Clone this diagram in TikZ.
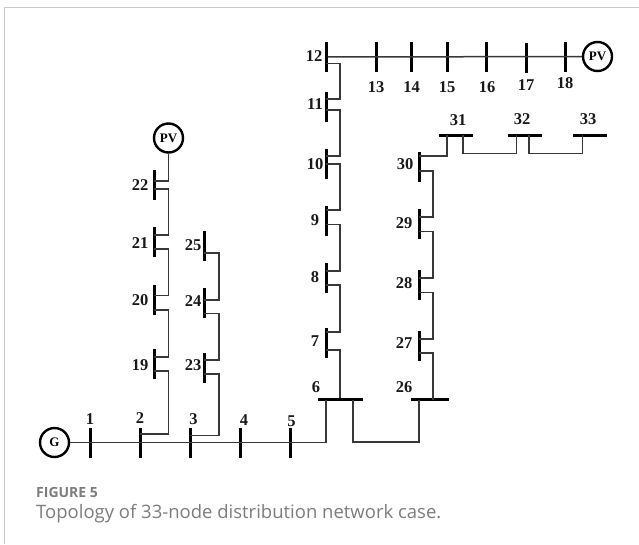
\documentclass[tikz,border=0pt]{standalone}
\usepackage{fontspec}
\setmainfont{Liberation Serif}
\newfontfamily\capfont{Open Sans}
\usepackage{tikz}
\usetikzlibrary{positioning}
\definecolor{framegray}{RGB}{200,200,200}
\definecolor{capgray}{RGB}{125,125,125}
\tikzset{
  wire/.style={line width=1.5pt, black!78},
  vbus/.style={fill=black, inner sep=0pt, minimum width=3pt, minimum height=30pt},
  hbus/.style={fill=black, inner sep=0pt, minimum height=3pt},
  source/.style={draw, circle, line width=2.4pt, fill=white, inner sep=0pt, minimum size=29pt, font=\bfseries\fontsize{13}{13}\selectfont},
  num/.style={font=\bfseries\fontsize{16.5}{16.5}\selectfont, inner sep=0pt, text=black!90}
}
\begin{document}
\begin{tikzpicture}[x=1pt,y=-1pt]
    \useasboundingbox (0,0) rectangle (639,544);
    \fill[white] (0,0) rectangle (639,544);
    \coordinate (framea) at (4.5,544);
    \coordinate (frameb) at (4.5,7.5);
    \coordinate (framec) at (639,7.5);
    \draw[framegray, line width=1pt] (framea) -- (frameb) -- (framec);
    % vertical buses
    \foreach \name/\x/\y in {b1/90/443,b2/140/443,b3/190/443,b4/240/443,b5/290/443,
        b7/326/342.5,b8/326/278,b9/326/221,b10/326/163.5,b11/326/107,b12/326/57,
        b13/376/57,b14/411.5/57,b15/447/57,b16/486.5/57,b17/526/58,b18/565/57,
        b19/154.3/363.5,b20/154.3/299.5,b21/154.3/242,b22/154.3/185,
        b23/204.3/367.5,b24/204.3/303,b25/204.3/246,
        b27/419/346,b28/419/285,b29/419/224,b30/419/167}
        \node[vbus] (\name) at (\x,\y) {};
    % horizontal buses
    \node[hbus, minimum width=45pt] (b6) at (340,399.7) {};
    \node[hbus, minimum width=38pt] (b26) at (429.5,399.7) {};
    \node[hbus, minimum width=34pt] (b31) at (456,135) {};
    \node[hbus, minimum width=34pt] (b32) at (524.5,135) {};
    \node[hbus, minimum width=34pt] (b33) at (590,135) {};
    % sources
    \node[source] (g) at (54.5,442.5) {G};
    \node[source] (pva) at (168.5,138) {PV};
    \node[source] (pvb) at (597.5,56.5) {PV};
    % main lines
    \draw[wire] (g) -- (326,442.5) -- (326,399.7);
    \draw[wire] (b12) -- (pvb);
    % feeder ties: bus, y on bus, x of feeder, y on next bus, next bus
    \foreach \from/\ya/\fx/\yb/\to in {b2/434/168.5/371/b19,b19/357/168.5/310/b20,
        b20/295.5/168.5/249/b21,b21/235/168.5/189/b22,
        b3/435.5/219/374/b23,b23/360/219/313.5/b24,b24/300/219/253/b25,
        b7/332/340/285/b8,b8/271/340/224.5/b9,b9/210/340/164/b10,
        b10/156/340/110/b11,b11/99/340/63.5/b12,
        b27/339/433/292.5/b28,b28/278/433/231.5/b29,b29/217/433/171/b30}
        \draw[wire] (\from |- 0,\ya) -| (\fx,\yb) -- (\to |- 0,\yb);
    \draw[wire] (b6) -- (340,350) -- (b7 |- 0,350);
    \draw[wire] (433,399.7) -- (433,353) -- (b27 |- 0,353);
    \draw[wire] (353,399.7) |- (419,442) -- (419,399.7);
    \draw[wire] (b30 |- 0,156) -| (447,135);
    \draw[wire] (463,135) |- (516.5,153.5) -- (516.5,135);
    \draw[wire] (529,135) |- (582.5,153.5) -- (582.5,135);
    \draw[wire] (pva) -- (168.5,181) -- (b22 |- 0,181);
    % labels
    \foreach \t/\x/\y in {1/90/419,2/140/418,3/193.5/419,4/244/420,5/291.5/421,6/316/387,
        7/315/341,8/315/277,9/315/220,10/315/164,11/315/104,12/314/56,
        13/376/87,14/411.5/87,15/447/87,16/487/87,17/526/85,18/565/83,
        19/140/365,20/140/300,21/140/243,22/140/185,23/193/365,24/193/301,25/193/245,
        26/404/387,27/404/343,28/404/283,29/404/223,30/405/164,31/458/120,32/522/119,33/588/119}
        \node[num] (n\t) at (\x,\y) {\t};
    \node[anchor=base west, inner sep=0pt, text=capgray, font=\capfont\bfseries\fontsize{14}{14}\selectfont] (caphead) at (36,497.5) {FIGURE 5};
    \node[anchor=base west, inner sep=0pt, text=capgray, font=\capfont\fontsize{18.5}{18.5}\selectfont] (captext) at (36,518.5) {Topology of 33-node distribution network case.};
\end{tikzpicture}
\end{document}
